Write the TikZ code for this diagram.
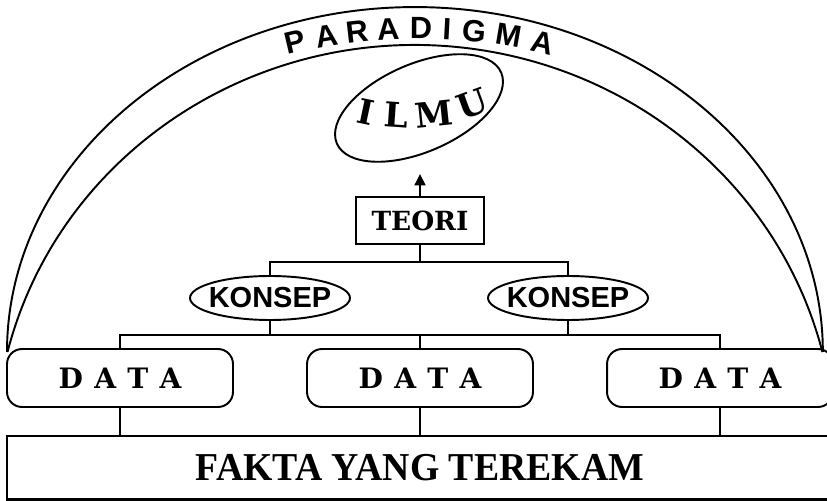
\documentclass[tikz,border=0pt]{standalone}
\usepackage{graphicx}
\usepackage{fontspec}
\newfontfamily\arialfont{Liberation Sans}
\newfontfamily\timesfont{Liberation Serif}
\newfontfamily\slabfont[WordSpace=1.15]{DejaVu Serif Bold}
\usetikzlibrary{arrows.meta,positioning,shapes.geometric}

\begin{document}
\begin{tikzpicture}[x=0.02cm, y=0.02cm, line width=1.1pt,
  databox/.style={rounded corners=0.3cm, draw, minimum width=4.52cm, minimum height=1.16cm, font=\slabfont\fontsize{16}{18}\selectfont},
  konsep/.style={ellipse, draw, inner sep=0pt, minimum width=3.2cm, minimum height=0.88cm},
  sanstext/.style={font=\arialfont\bfseries\fontsize{16.5}{18}\selectfont},
  ilmutext/.style={font=\slabfont\fontsize{19.5}{21}\selectfont, inner sep=0pt}]
\useasboundingbox[fill=white] (0,0) rectangle (827,500);
% Paradigma band
\draw (7,148) arc[start angle=180, end angle=0, x radius=8.16cm, y radius=6.9cm];
\draw (7.5,148) arc[start angle=166, end angle=14, x radius=8.4cm, y radius=8.1cm];
\foreach \ch/\px [count=\i] in {P/295,A/327,R/357,A/388,D/421,I/447,G/474,M/509,A/543}{
  \pgfmathsetmacro\a{acos((\px-418)/420)}
  \node[sanstext, font=\arialfont\bfseries\fontsize{17.5}{20}\selectfont, inner sep=0pt, rotate={atan2(-324*cos(\a),420*sin(\a))}] (p\i) at ({418+420*cos(\a)},{148+324*sin(\a)}) {\ch};
}
% Ilmu
\node[draw, ellipse, inner sep=0pt, minimum width=3.58cm, minimum height=1.76cm, rotate=23.4] (ilmu) at (419,392) {};
\foreach \ch/\px/\py/\r [count=\i] in {I/366/388/-12, L/396/385/-4, M/434/386/6, U/472/396/20}
  \node[ilmutext, rotate=\r] (l\i) at (\px,\py) {\ch};
% Teori and konsep
\node[draw, minimum width=2.56cm, minimum height=0.94cm, font=\slabfont\fontsize{15}{17}\selectfont] (teori) at (420,279.5) {TEORI};
\coordinate (tip) at (420,326);
\draw[-{Triangle[length=2.3mm, width=2.2mm]}] (teori) -- (tip);
\node[konsep, label={[sanstext]center:KONSEP}] (kl) at (270,202) {};
\node[konsep, label={[sanstext]center:KONSEP}] (kr) at (568,202) {};
\coordinate (jt) at (420,238);
\draw (teori) -- (jt);
\draw (kl) |- (jt) -| (kr);
% Data
\node[databox] (dl) at (120,122) {D A T A};
\node[databox] (dm) at (420,122) {D A T A};
\node[databox] (dr) at (720,122) {D A T A};
\coordinate (jk) at (420,165);
\draw (dl) |- (jk) -| (dr);
\draw (dm) -- (jk);
\draw (kl) -- (kl |- jk);
\draw (kr) -- (kr |- jk);
% Fakta
\node[draw, line width=1.4pt, minimum width=16.52cm, minimum height=1.27cm, font=\timesfont\bfseries\fontsize{22.5}{25}\selectfont] (fakta) at (420,32.25) {\scalebox{0.955}[1]{FAKTA YANG TEREKAM}};
\draw (dl) -- (dl |- fakta.north);
\draw (dm) -- (dm |- fakta.north);
\draw (dr) -- (dr |- fakta.north);
\end{tikzpicture}
\end{document}
